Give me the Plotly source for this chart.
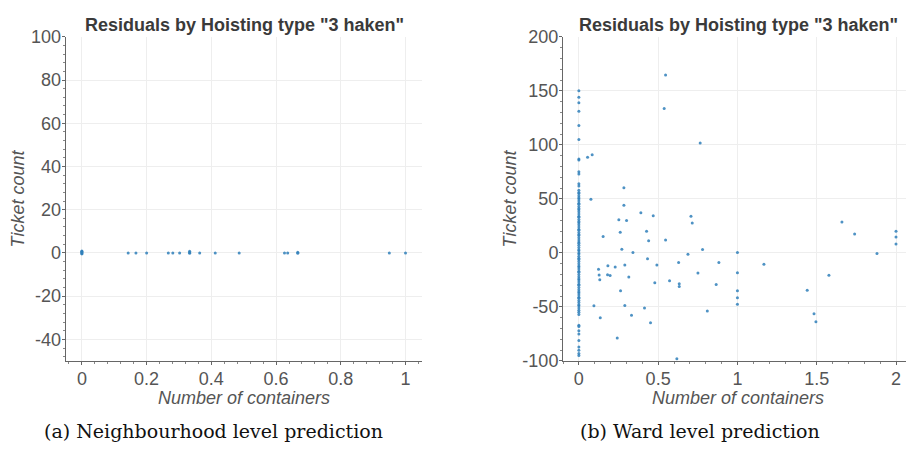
import plotly.graph_objects as go

# ---------------- data ----------------
# (a) neighbourhood level
nb_x = [0, 0, 0, 0, 0, 0, 0.143, 0.167, 0.2, 0.267, 0.281, 0.302, 0.333, 0.333, 0.333,
        0.364, 0.412, 0.486, 0.626, 0.636, 0.667, 0.667, 0.95, 1.0]
nb_y = [0.6, 0.2, -0.3, 0.9, -0.5, 0.4, 0.0, 0.0, 0.0, 0.0, 0.0, 0.0, 0.8, 0.2, -0.2,
        0.0, 0.0, 0.0, 0.0, 0.0, 0.3, -0.2, 0.0, 0.0]

# (b) ward level: zero-container wards
ward0_y = [150, 144, 139, 131, 118, 105, 87, 86, 75, 73, 64, 62,
           58, 56, 55, 53, 51, 50, 48, 46, 45, 43, 41, 40, 38, 36, 34, 33, 31, 29, 28, 26,
           24, 22, 21, 19, 17, 16, 14, 12, 10, 9, 7, 5, 3, 2, 0, -1, -3, -5, -6, -8, -10,
           -12, -13, -15, -17, -18, -20, -22, -24, -25, -27, -29, -30, -32, -34, -36, -37,
           -39, -41, -42, -44, -46, -48, -49, -51, -53, -55, -57,
           -67, -68, -72, -75, -81, -87, -90, -93, -95]
ward0_x = [0] * len(ward0_y)

# (b) ward level: wards with containers
ward_x = [0.055, 0.084, 0.547, 0.538, 0.765, 0.284, 0.076,
          0.284, 0.391, 0.469, 0.252, 0.301, 0.707, 0.715, 0.427, 0.261, 0.153, 0.44, 0.547,
          0.271, 0.78, 0.341, 0.688, 0.433, 0.629, 0.883, 0.29, 0.492, 0.124, 0.183, 0.229,
          0.128, 0.181, 0.197, 0.315, 0.132, 0.572, 0.751, 0.479, 0.633, 0.633, 0.866, 0.263,
          0.095, 0.29, 0.414, 0.81, 0.135, 0.332, 0.452, 0.242, 0.618,
          1, 1, 1, 1, 1, 1.167, 1.659, 1.739, 1.88, 2, 2, 2, 1.44, 1.577, 1.483, 1.495]
ward_y = [88.5, 90.8, 164.6, 133.6, 101.8, 60.2, 49.7,
          44.2, 37.2, 34.5, 30.6, 30.1, 33.9, 27.7, 20, 19.1, 15.3, 11.2, 12,
          3.5, 3.2, 0.3, -1.2, -5.3, -8.9, -8.9, -11.2, -11.2, -15.1, -11.9, -13,
          -20.4, -20.1, -21, -22.4, -24.8, -25.7, -18.6, -27.5, -28.6, -31, -29.2, -35.1,
          -49, -48.7, -51, -53.7, -59.9, -57.8, -64.6, -78.8, -98,
          0.3, -18.3, -35.1, -41.6, -47.5, -10.4, 28.6, 17.4, -0.6, 20, 14.7, 8.2,
          -34.5, -20.7, -56.4, -63.7]

x1_ticks = [0, 0.2, 0.4, 0.6, 0.8, 1.0]
x1_labels = ["0", "0.2", "0.4", "0.6", "0.8", "1"]
y1_ticks = [-40, -20, 0, 20, 40, 60, 80, 100]
y1_labels = ["-40", "-20", "0", "20", "40", "60", "80", "100"]
x2_ticks = [0, 0.5, 1, 1.5, 2]
x2_labels = ["0", "0.5", "1", "1.5", "2"]
y2_ticks = [-100, -50, 0, 50, 100, 150, 200]
y2_labels = ["-100", "-50", "0", "50", "100", "150", "200"]

title_text = 'Residuals by Hoisting type "3 haken"'
xlabel = "Number of containers"
ylabel = "Ticket count"
captions = ["(a) Neighbourhood level prediction", "(b) Ward level prediction"]

# ---------------- figure ----------------
W, H = 906, 458
PT, PB = 28, 367
L1, R1 = 65.7, 421.7
L2 = 563

def px(x):
    return x / W

def py(y):
    return 1 - y / H

mcol = "#2f7fba"
marker = dict(size=3, color=mcol, opacity=0.85)

fig = go.Figure()
fig.add_trace(go.Scatter(x=nb_x, y=nb_y, mode="markers", marker=marker,
                         xaxis="x", yaxis="y", showlegend=False))
fig.add_trace(go.Scatter(x=ward0_x, y=ward0_y, mode="markers", marker=marker,
                         xaxis="x2", yaxis="y2", showlegend=False))
fig.add_trace(go.Scatter(x=ward_x, y=ward_y, mode="markers", marker=marker,
                         xaxis="x2", yaxis="y2", showlegend=False))

tickfont = dict(family="Liberation Sans, Arial, sans-serif", size=18, color="#555555")
axis_common = dict(
    showline=True, linecolor="#666666", linewidth=1,
    showgrid=True, gridcolor="#eeeeee", gridwidth=1,
    zeroline=False, ticks="outside", ticklen=3, tickcolor="#666666",
    tickfont=tickfont,
)
minor_common = dict(ticks="outside", ticklen=2, tickcolor="#888888", showgrid=False)

x2_right = (W - 579) / 158.5

fig.update_layout(
    width=W, height=H,
    margin=dict(l=0, r=0, t=0, b=0),
    paper_bgcolor="white", plot_bgcolor="white",
    xaxis=dict(domain=[px(L1), px(R1)], range=[-0.05, 1.05], anchor="y",
               tickvals=x1_ticks, ticktext=x1_labels,
               minor=dict(dtick=0.04, **minor_common), ticklabelstandoff=-2,
               **axis_common),
    yaxis=dict(domain=[py(PB), py(PT)], range=[-50, 100], anchor="x",
               tickvals=y1_ticks, ticktext=y1_labels,
               minor=dict(dtick=4, **minor_common), ticklabelstandoff=-3,
               **axis_common),
    xaxis2=dict(domain=[px(L2), 1.0], range=[-0.1, x2_right], anchor="y2",
                tickvals=x2_ticks, ticktext=x2_labels,
                minor=dict(dtick=0.1, **minor_common), ticklabelstandoff=-2,
                **axis_common),
    yaxis2=dict(domain=[py(PB), py(PT)], range=[-100, 200], anchor="x2",
                tickvals=y2_ticks, ticktext=y2_labels,
                minor=dict(dtick=10, **minor_common), ticklabelstandoff=-3,
                **axis_common),
)

title_font = dict(family="Liberation Sans, Arial, sans-serif", size=18, color="#3a3a3a")
label_font = dict(family="Liberation Sans, Arial, sans-serif", size=18, color="#555555")
cap_font = dict(family="DejaVu Serif, serif", size=19, color="#111111")

ann = []
for xc in [244, 738]:
    ann.append(dict(text="<b>" + title_text + "</b>", x=px(xc), y=py(16), xref="paper", yref="paper",
                    showarrow=False, font=title_font, xanchor="center", yanchor="middle"))
for xc in [244, 738]:
    ann.append(dict(text="<i>" + xlabel + "</i>", x=px(xc), y=py(406), xref="paper", yref="paper",
                    showarrow=False, font=label_font, xanchor="center", yanchor="middle"))
for xc in [18, 510]:
    ann.append(dict(text="<i>" + ylabel + "</i>", x=px(xc), y=py(197), xref="paper", yref="paper",
                    showarrow=False, font=label_font, xanchor="center", yanchor="middle", textangle=-90))
ann.append(dict(text=captions[0], x=px(213), y=py(440), xref="paper", yref="paper",
                showarrow=False, font=cap_font, xanchor="center", yanchor="middle"))
ann.append(dict(text=captions[1], x=px(700), y=py(440), xref="paper", yref="paper",
                showarrow=False, font=cap_font, xanchor="center", yanchor="middle"))
fig.update_layout(annotations=ann)

fig.write_html("out.html")
